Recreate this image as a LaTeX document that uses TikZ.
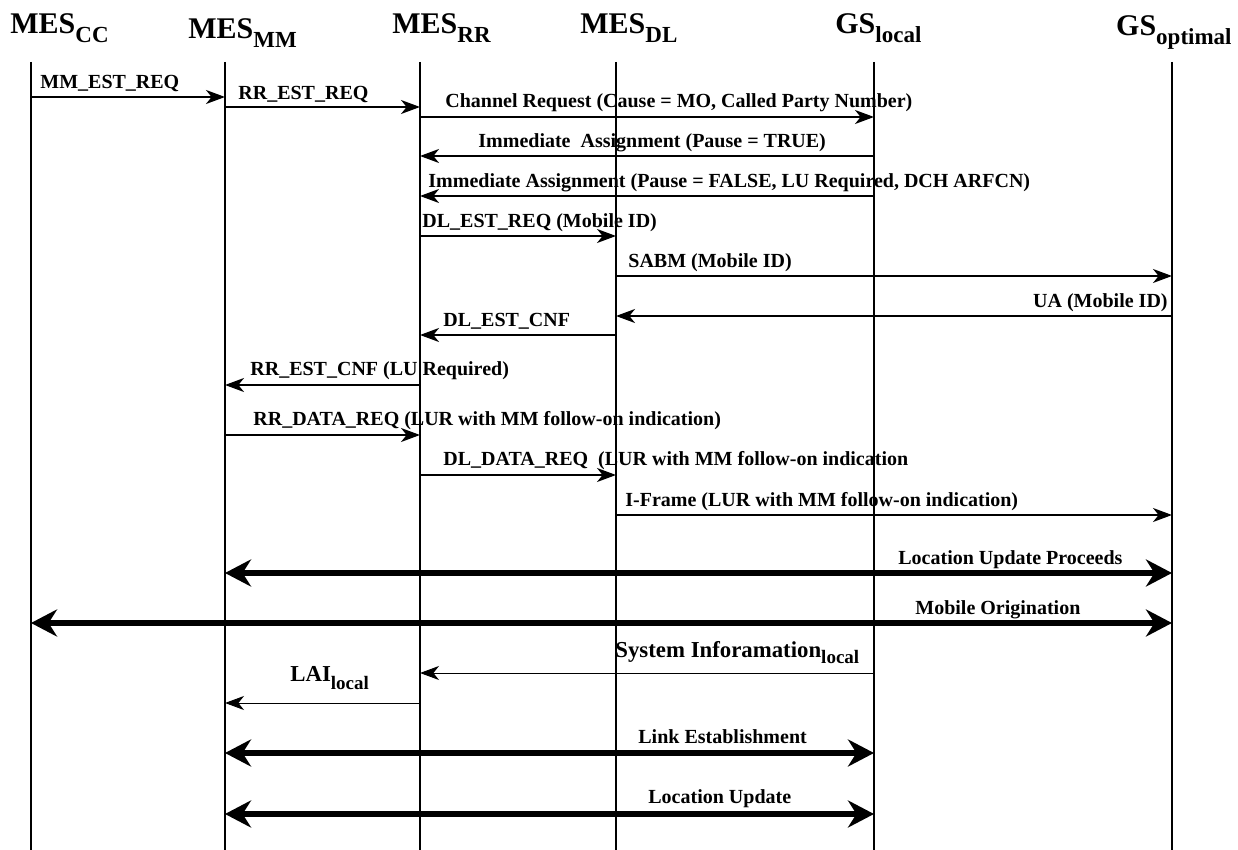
\documentclass[tikz,border=0pt]{standalone}
\usepackage{fontspec}
\setmainfont{Liberation Serif}
\usepackage{tikz}
\usetikzlibrary{arrows.meta}
\newcommand{\lsub}[2]{\raisebox{#1}{\fontsize{11.5}{12}\selectfont #2}}
\newcommand{\msub}[2]{\raisebox{#1}{\fontsize{9.5}{10}\selectfont #2}}
\tikzset{
  lifeline/.style={draw=black, line width=1.4pt},
  hdr/.style={font=\fontsize{15}{18}\selectfont\bfseries, inner sep=0pt, anchor=base west},
  lbl/.style={font=\fontsize{10}{12}\selectfont\bfseries, inner sep=0pt, anchor=base west},
  biglbl/.style={lbl, font=\fontsize{11.4}{13}\selectfont\bfseries},
  msg/.style={-{Stealth[length=9.5pt,width=7pt,inset=2.8pt]}, line width=0.85pt},
  fmsg/.style={msg, line width=0.5pt},
  phase/.style={{Stealth[length=13pt,width=13.5pt,inset=4.2pt]}-{Stealth[length=13pt,width=13.5pt,inset=4.2pt]}, line width=3.4pt}
}

\begin{document}
\begin{tikzpicture}[x=0.5pt, y=-0.5pt]
  \useasboundingbox (0,0) rectangle (1238,850);

  % lifelines
  \coordinate (cc) at (31,62);
  \coordinate (mm) at (225,62);
  \coordinate (rr) at (420,62);
  \coordinate (dl) at (616,62);
  \coordinate (gl) at (874,62);
  \coordinate (go) at (1172,62);
  \draw[lifeline] (cc) -- ++(0,788);
  \draw[lifeline] (mm) -- ++(0,788);
  \draw[lifeline] (rr) -- ++(0,788);
  \draw[lifeline] (dl) -- ++(0,788);
  \draw[lifeline] (gl) -- ++(0,788);
  \draw[lifeline] (go) -- ++(0,788);

  % entity headers
  \node[hdr] (hcc) at (10,34) {MES\lsub{-4.5pt}{CC}};
  \node[hdr] (hmm) at (188,39) {MES\lsub{-4.5pt}{MM}};
  \node[hdr] (hrr) at (392,34) {MES\lsub{-4.5pt}{RR}};
  \node[hdr] (hdl) at (580,34) {MES\lsub{-4.5pt}{DL}};
  \node[hdr] (hgl) at (835,34) {GS\lsub{-4.5pt}{local}};
  \node[hdr, anchor=base east] (hgo) at (1232,36) {GS\lsub{-4.5pt}{optimal}};

  % message labels
  \node[lbl] (m1) at (40,89) {MM\_EST\_REQ};
  \node[lbl] (m2) at (238,100) {RR\_EST\_REQ};
  \node[lbl] (m3) at (445,108) {Channel Request (Cause = MO, Called Party Number)};
  \node[lbl] (m4) at (478,148) {Immediate\hspace{0.25em} Assignment (Pause = TRUE)};
  \node[lbl] (m5) at (428,188) {Immediate Assignment (Pause = FALSE, LU Required, DCH ARFCN)};
  \node[lbl] (m6) at (422,228) {DL\_EST\_REQ (Mobile ID)};
  \node[lbl] (m7) at (628,268) {SABM (Mobile ID)};
  \node[lbl, anchor=base east] (m8) at (1168,308) {UA (Mobile ID)};
  \node[lbl] (m9) at (443,327) {DL\_EST\_CNF};
  \node[lbl] (m10) at (250,376) {RR\_EST\_CNF (LU Required)};
  \node[lbl] (m11) at (253,426) {RR\_DATA\_REQ (LUR with MM follow-on indication)};
  \node[lbl] (m12) at (443,466) {DL\_DATA\_REQ\hspace{0.25em} (LUR with MM follow-on indication};
  \node[lbl] (m13) at (625,506) {I-Frame (LUR with MM follow-on indication)};
  \node[lbl] (m14) at (898,564) {Location Update Proceeds};
  \node[lbl] (m15) at (915,614) {Mobile Origination};
  \node[biglbl] (m16) at (615,657) {System Inforamation\msub{-3pt}{local}};
  \node[biglbl] (m17) at (290,681) {LAI\msub{-4pt}{local}};
  \node[lbl] (m18) at (638,743) {Link Establishment};
  \node[lbl] (m19) at (648,803) {Location Update};

  % messages
  \draw[msg] (cc |- 0,97) -- (mm |- 0,97);
  \draw[msg] (mm |- 0,107) -- (rr |- 0,107);
  \draw[msg] (rr |- 0,117) -- (gl |- 0,117);
  \draw[msg] (gl |- 0,156) -- (rr |- 0,156);
  \draw[msg] (gl |- 0,196) -- (rr |- 0,196);
  \draw[msg] (rr |- 0,236) -- (dl |- 0,236);
  \draw[msg] (dl |- 0,276) -- (go |- 0,276);
  \draw[msg] (go |- 0,316) -- (dl |- 0,316);
  \draw[msg] (dl |- 0,335) -- (rr |- 0,335);
  \draw[msg] (rr |- 0,385) -- (mm |- 0,385);
  \draw[msg] (mm |- 0,435) -- (rr |- 0,435);
  \draw[msg] (rr |- 0,475) -- (dl |- 0,475);
  \draw[msg] (dl |- 0,515) -- (go |- 0,515);
  \draw[phase] (mm |- 0,573) -- (go |- 0,573);
  \draw[phase] (cc |- 0,623) -- (go |- 0,623);
  \draw[fmsg] (gl |- 0,673) -- (rr |- 0,673);
  \draw[fmsg] (rr |- 0,703) -- (mm |- 0,703);
  \draw[phase] (mm |- 0,753) -- (gl |- 0,753);
  \draw[phase] (mm |- 0,814) -- (gl |- 0,814);
\end{tikzpicture}
\end{document}
